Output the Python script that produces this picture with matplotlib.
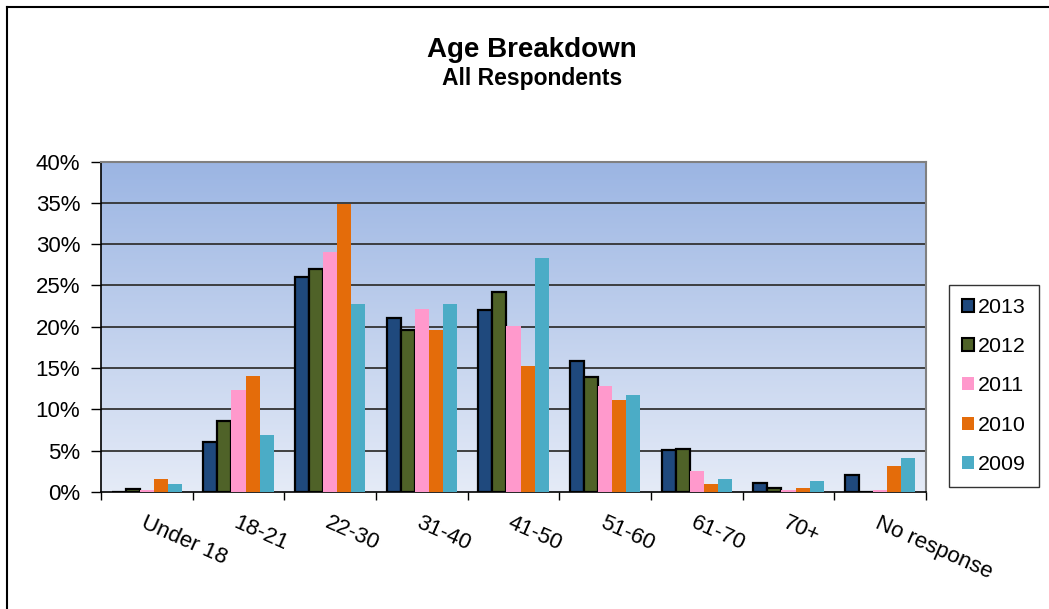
import numpy as np
import matplotlib
matplotlib.use("Agg")
import matplotlib.pyplot as plt
from matplotlib.patches import Patch
from matplotlib.lines import Line2D

plt.rcParams['font.family'] = ['Liberation Sans', 'DejaVu Sans']

categories = ["Under 18", "18-21", "22-30", "31-40", "41-50", "51-60", "61-70", "70+", "No response"]
years = ["2013", "2012", "2011", "2010", "2009"]
v2013 = [0.0, 6.0, 26.0, 21.0, 22.0, 15.9, 5.1, 1.1, 2.0]
v2012 = [0.4, 8.6, 27.0, 19.6, 24.2, 13.9, 5.2, 0.45, 0.0]
v2011 = [0.2, 12.4, 29.1, 22.1, 20.1, 12.8, 2.5, 0.2, 0.2]
v2010 = [1.6, 14.0, 34.9, 19.6, 15.3, 11.1, 1.0, 0.5, 3.2]
v2009 = [1.0, 6.9, 22.8, 22.8, 28.3, 11.7, 1.6, 1.3, 4.1]
series = [v2013, v2012, v2011, v2010, v2009]
colors = ["#1F497D", "#4F6228", "#FF99CC", "#E46C0A", "#4BACC6"]
edged = [True, True, False, False, False]
yticks = [0, 5, 10, 15, 20, 25, 30, 35, 40]

W, H = 1049, 609
fig = plt.figure(figsize=(W / 100, H / 100), dpi=100)
fig.patch.set_facecolor("white")

ax = fig.add_axes([101 / W, 1 - 492 / H, (926 - 101) / W, (492 - 161.5) / H])

# gradient background
top = np.array([155, 181, 227]) / 255
bot = np.array([229, 235, 247]) / 255
t = np.linspace(0, 1, 256)[:, None]
grad = (top * (1 - t) + bot * t)[:, None, :].repeat(2, axis=1)
ax.imshow(grad, extent=[-0.5, 8.5, 0, 40], aspect="auto", origin="upper", zorder=0)

n = len(categories)
x = np.arange(n)
bw = 0.154
for j, (vals, c, e) in enumerate(zip(series, colors, edged)):
    pos = x + (j - 2) * bw
    if e:
        ax.bar(pos, vals, width=bw, color=c, edgecolor="black", linewidth=1.6, zorder=3)
    else:
        ax.bar(pos, vals, width=bw, color=c, edgecolor="none", zorder=3)

ax.set_xlim(-0.5, n - 0.5)
ax.set_ylim(0, 40)
ax.set_yticks(yticks)
ax.set_yticklabels([f"{v}%" for v in yticks], fontsize=16)
for yv in yticks[1:-1]:
    ax.axhline(yv, color="#333333", linewidth=1.3, zorder=1)

ax.set_xticks(x)
ax.set_xticklabels(categories, fontsize=16, rotation=-24, ha="left", rotation_mode="anchor")
ax.set_xticks(np.arange(-0.5, n, 1.0), minor=True)
ax.tick_params(axis="x", which="major", length=0, pad=15)
ax.tick_params(axis="x", which="minor", length=6, width=1, color="black", direction="out")
ax.tick_params(axis="y", length=7, width=1, color="black", direction="out", pad=8)

for s in ["top", "right"]:
    ax.spines[s].set_color("#808080")
    ax.spines[s].set_linewidth(1.5)
for s in ["left", "bottom"]:
    ax.spines[s].set_color("black")
    ax.spines[s].set_linewidth(1.2)

# titles
fig.text(532 / W, 1 - 50 / H, "Age Breakdown", ha="center", va="center", fontsize=20, fontweight="bold")
fig.text(532 / W, 1 - 79 / H, "All Respondents", ha="center", va="center", fontsize=16.5, fontweight="bold")

# legend
handles = []
for yr, c, e in zip(years, colors, edged):
    handles.append(Patch(facecolor=c, edgecolor="black" if e else c, linewidth=1.5 if e else 0, label=yr))
leg = fig.legend(handles=handles, loc="upper left", bbox_to_anchor=(949 / W, 1 - 285 / H),
                 fontsize=15.4, frameon=True, fancybox=False, edgecolor="black",
                 handlelength=0.55, handleheight=0.55, handletextpad=0.2, labelspacing=0.95,
                 borderpad=0.6, borderaxespad=0)
leg.get_frame().set_linewidth(1.0)

# outer border (left and top)
fig.add_artist(Line2D([6.5 / W, 6.5 / W], [0, 1 - 6.5 / H], transform=fig.transFigure, color="black", linewidth=1.5))
fig.add_artist(Line2D([6.5 / W, 1], [1 - 6.5 / H, 1 - 6.5 / H], transform=fig.transFigure, color="black", linewidth=1.5))

fig.savefig("out.png", dpi=100)
